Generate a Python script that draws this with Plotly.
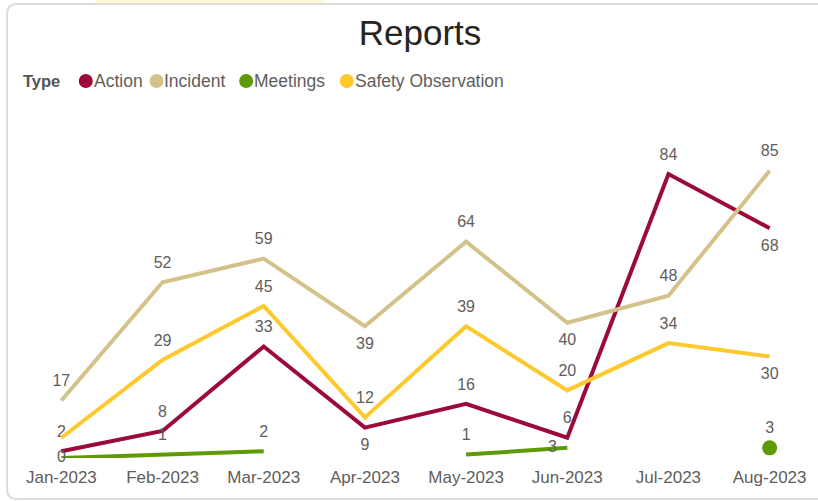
import plotly.graph_objects as go

months = ["Jan-2023", "Feb-2023", "Mar-2023", "Apr-2023", "May-2023", "Jun-2023", "Jul-2023", "Aug-2023"]
action = [2, 8, 33, 9, 16, 6, 84, 68]
incident = [17, 52, 59, 39, 64, 40, 48, 85]
meetings = [0, 1, 2, None, 1, 3, None, 3]
safety = [6, 29, 45, 12, 39, 20, 34, 30]
legend_names = ["Action", "Incident", "Meetings", "Safety Observation"]

W, H = 818, 501
L, R, T, B = 31, 15, 120, 43

C_ACTION = "#9b0a3a"
C_INCIDENT = "#d3c38a"
C_MEET = "#5e9a05"
C_SAFETY = "#fdc92c"
LABEL_C = "#605e5c"
FONT = "Liberation Sans, Arial, sans-serif"


def labels(vals, hide=()):
    return ["" if (v is None or i in hide) else str(v) for i, v in enumerate(vals)]


series = [
    (action, C_ACTION, ["top center", "top center", "top center", "bottom center",
                        "top center", "top center", "top center", "bottom center"], (), None),
    (incident, C_INCIDENT, ["top center", "top center", "top center", "bottom center",
                            "top center", "bottom center", "top center", "top center"], (), None),
    (meetings, C_MEET, ["middle center", "top center", "top center", "top center",
                        "top center", "middle left", "top center", "top center"], (),
     [0, 0, 0, 0, 0, 0, 0, 1]),
    (safety, C_SAFETY, ["top center", "top center", "top center", "top center",
                        "top center", "top center", "top center", "bottom center"], (0,), None),
]

fig = go.Figure()
for name, (vals, col, pos, hide, mop) in zip(legend_names, series):
    fig.add_trace(go.Scatter(
        x=months, y=vals, name=name, mode="lines+markers+text",
        line=dict(color=col, width=4), connectgaps=False,
        marker=dict(size=15, color=col, opacity=mop if mop is not None else 0),
        text=labels(vals, hide), textposition=pos,
        textfont=dict(family=FONT, size=16, color=LABEL_C),
        cliponaxis=False, showlegend=False, hoverinfo="x+y+name",
    ))


def px2x(px):
    return (px - L) / (W - L - R)


def px2y(py):
    return (H - B - py) / (H - T - B)


# card border
x0, x1, y0, y1, rr = px2x(7), px2x(840), px2y(4), px2y(499), 10
rx = rr / (W - L - R)
ry = rr / (H - T - B)
path = (f"M {x0+rx},{y0} L {x1},{y0} M {x0},{y0-ry} L {x0},{y1+ry} "
        f"Q {x0},{y1} {x0+rx},{y1} L {x1},{y1} M {x0},{y0-ry} Q {x0},{y0} {x0+rx},{y0}")
fig.add_shape(type="path", path=path, xref="paper", yref="paper",
              line=dict(color="#dcdcdc", width=2), layer="below")
fig.add_shape(type="rect", xref="paper", yref="paper",
              x0=px2x(95), x1=px2x(325), y0=px2y(0), y1=px2y(3),
              fillcolor="#fff6dc", line=dict(width=0), layer="below")

# legend (Power BI style: title + dots)
LEG_Y = 81
fig.add_annotation(text="<b>Type</b>", xref="paper", yref="paper", x=px2x(21), y=px2y(LEG_Y),
                   xanchor="left", yanchor="middle", showarrow=False,
                   font=dict(family=FONT, size=16.5, color="#555555"))
dot_x = [86, 157, 247, 348]
colors = [C_ACTION, C_INCIDENT, C_MEET, C_SAFETY]
for nm, dx, col in zip(legend_names, dot_x, colors):
    fig.add_shape(type="circle", xref="paper", yref="paper", xsizemode="pixel", ysizemode="pixel",
                  xanchor=px2x(dx), yanchor=px2y(LEG_Y), x0=-7, x1=7, y0=-7, y1=7,
                  fillcolor=col, line=dict(width=0))
    fig.add_annotation(text=nm, xref="paper", yref="paper", x=px2x(dx + 7), y=px2y(LEG_Y),
                       xanchor="left", yanchor="middle", showarrow=False, xshift=-1,
                       font=dict(family=FONT, size=17.5, color=LABEL_C))

fig.update_layout(
    width=W, height=H,
    margin=dict(l=L, r=R, t=T, b=B),
    paper_bgcolor="white", plot_bgcolor="white",
    title=dict(text="Reports", x=420 / W, xanchor="center", xref="container",
               y=1 - 33 / H, yanchor="middle", yref="container",
               font=dict(family=FONT, size=35, color="#252423")),
    xaxis=dict(range=[-0.3, 7.3], showgrid=False, zeroline=False, showline=False,
               tickfont=dict(family=FONT, size=17, color=LABEL_C), ticks="",
               ticklabelstandoff=7, fixedrange=True),
    yaxis=dict(range=[0, 100], visible=False, fixedrange=True),
    showlegend=False,
)

fig.write_html("out.html", config={"displayModeBar": False},
               post_script="document.body.style.margin='0';")
